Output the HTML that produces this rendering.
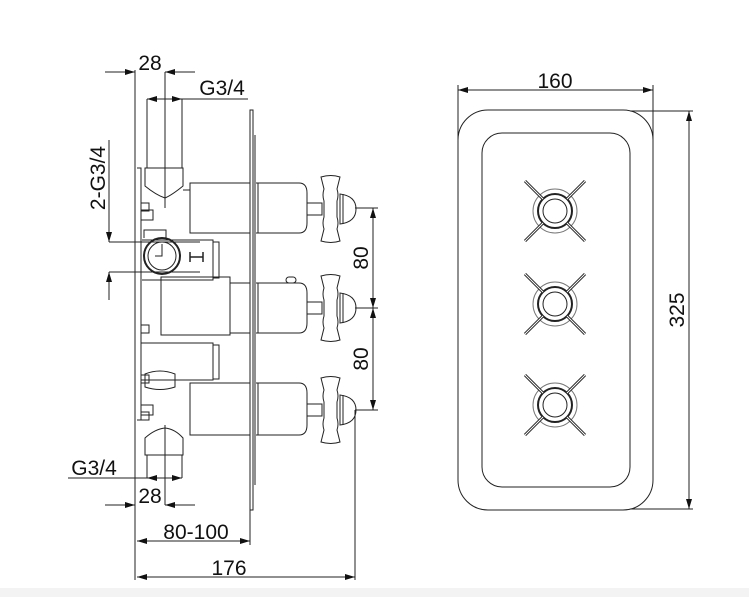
<!DOCTYPE html>
<html><head><meta charset="utf-8"><style>
html,body{margin:0;padding:0;background:#fff}
svg{display:block}
text{font-family:"Liberation Sans",sans-serif;fill:#111}
</style></head><body>
<svg width="749" height="597" viewBox="0 0 749 597" xmlns="http://www.w3.org/2000/svg">
<defs>
<marker id="a" viewBox="0 0 10 6" refX="10" refY="3" markerWidth="10" markerHeight="6" orient="auto-start-reverse" markerUnits="userSpaceOnUse"><path d="M0,0 L10,3 L0,6 z" fill="#111"/></marker>
<g id="hdl" fill="none" stroke="#222" stroke-width="1">
  <rect x="0" y="-6" width="15" height="12"/>
  <path d="M14,-32 q10,-3 19,0 l-3,12 q2,6 0,12 l0,16 q2,6 0,12 l3,12 q-9,3 -19,0 l3,-12 q-2,-6 0,-12 l0,-16 q-2,-6 0,-12 z"/>
  <path d="M33,-15 q16,2 16,15 q0,13 -16,15 z"/>
  <line x1="36" y1="-15" x2="36" y2="15"/>
</g>
<g id="knob" fill="none" stroke="#222" stroke-width="1">
  <circle r="22" stroke="#777"/><circle r="17" stroke-width="2"/><circle r="12"/>
  <line x1="-12" y1="-12" x2="-30" y2="-30" stroke-width="3"/>
  <line x1="12" y1="-12" x2="30" y2="-30" stroke-width="3"/>
  <line x1="-12" y1="12" x2="-30" y2="30" stroke-width="3"/>
  <line x1="12" y1="12" x2="30" y2="30" stroke-width="3"/>
  <line x1="-12" y1="-12" x2="-30" y2="-30" stroke="#fff" stroke-width="1"/>
  <line x1="12" y1="-12" x2="30" y2="-30" stroke="#fff" stroke-width="1"/>
  <line x1="-12" y1="12" x2="-30" y2="30" stroke="#fff" stroke-width="1"/>
  <line x1="12" y1="12" x2="30" y2="30" stroke="#fff" stroke-width="1"/>
</g>
</defs>
<rect x="0" y="588" width="749" height="9" fill="#f3f3f3"/>
<g fill="none" stroke="#222" stroke-width="1">
<line x1="135" y1="70" x2="135" y2="580"/>
<line x1="105" y1="72" x2="135" y2="72" marker-end="url(#a)"/>
<line x1="195" y1="72" x2="165" y2="72" marker-end="url(#a)"/>
<line x1="165" y1="72" x2="165" y2="140"/>
<line x1="165" y1="99" x2="248" y2="99"/>
<line x1="147" y1="99" x2="165" y2="99" marker-start="url(#a)"/>
<line x1="182" y1="99" x2="165" y2="99" marker-start="url(#a)"/>
<path d="M147,99 V168 M182,99 V168 M145,168 H183 V186 Q172,195 165,198 Q156,195 145,186 Z"/>
<line x1="165" y1="138" x2="165" y2="208"/>
<rect x="250" y="110" width="3" height="400"/>
<line x1="255" y1="135" x2="255" y2="485"/>
<path d="M137,168 H141 V420 H137"/>
<rect x="141" y="203" width="8" height="8"/><rect x="141" y="325" width="8" height="8"/>
<rect x="141" y="375" width="8" height="8"/><rect x="141" y="412" width="8" height="8"/>
<rect x="141" y="210" width="12" height="10"/><rect x="141" y="405" width="12" height="10"/>
<rect x="190" y="183" width="60" height="50"/>
<path d="M256,183 H299 Q307,183 307,193 V223 Q307,233 299,233 H256"/>
<line x1="258" y1="183" x2="258" y2="233"/>
<line x1="183" y1="190" x2="190" y2="190"/>
<path d="M142,240 H213 V280 H142"/>
<rect x="213" y="242" width="6" height="36"/>
<path d="M144,238 V230 H166 V238"/>
<circle cx="162" cy="256" r="18" stroke-width="2"/><circle cx="162" cy="256" r="14"/>
<path d="M162,244 V256 H155"/>
<path d="M190,252 V262 M203,252 V262 M190,257 H203" stroke-width="1.5"/>
<rect x="161" y="277" width="69" height="58"/>
<rect x="230" y="283" width="20" height="50"/>
<path d="M256,283 H299 Q307,283 307,293 V323 Q307,333 299,333 H256"/>
<line x1="258" y1="283" x2="258" y2="333"/>
<rect x="286" y="277" width="10" height="6" rx="3"/>
<path d="M141,343 H213 V380 H141"/><rect x="213" y="345" width="6" height="34"/>
<path d="M145,374 Q160,368 175,374 V387 Q160,392 145,387 Z"/>
<rect x="190" y="383" width="60" height="52"/>
<path d="M256,383 H299 Q307,383 307,393 V425 Q307,435 299,435 H256"/>
<line x1="258" y1="383" x2="258" y2="435"/>
<path d="M145,438 Q155,429 165,428 Q175,429 183,438 V455 H145 Z M147,455 V478 M182,455 V478"/>
<line x1="165" y1="425" x2="165" y2="505"/>
<line x1="109" y1="140" x2="109" y2="242" marker-end="url(#a)"/>
<line x1="109" y1="300" x2="109" y2="272" marker-end="url(#a)"/>
<line x1="109" y1="242" x2="200" y2="242"/>
<line x1="109" y1="272" x2="200" y2="272"/>
<line x1="68" y1="478" x2="147" y2="478"/>
<line x1="147" y1="478" x2="165" y2="478" marker-start="url(#a)"/>
<line x1="182" y1="478" x2="165" y2="478" marker-start="url(#a)"/>
<line x1="105" y1="505" x2="135" y2="505" marker-end="url(#a)"/>
<line x1="195" y1="505" x2="165" y2="505" marker-end="url(#a)"/>
<line x1="250" y1="510" x2="250" y2="545"/>
<line x1="137" y1="541" x2="250" y2="541" marker-start="url(#a)" marker-end="url(#a)"/>
<line x1="355" y1="410" x2="355" y2="580"/>
<line x1="137" y1="577" x2="355" y2="577" marker-start="url(#a)" marker-end="url(#a)"/>
<line x1="355" y1="208" x2="378" y2="208"/>
<line x1="355" y1="308" x2="378" y2="308"/>
<line x1="355" y1="410" x2="378" y2="410"/>
<line x1="373" y1="208" x2="373" y2="308" marker-start="url(#a)" marker-end="url(#a)"/>
<line x1="373" y1="308" x2="373" y2="410" marker-start="url(#a)" marker-end="url(#a)"/>
<rect x="458" y="110" width="195" height="400" rx="30"/>
<rect x="482" y="133" width="148" height="354" rx="20"/>
<line x1="458" y1="85" x2="458" y2="140"/>
<line x1="653" y1="85" x2="653" y2="140"/>
<line x1="458" y1="90" x2="653" y2="90" marker-start="url(#a)" marker-end="url(#a)"/>
<line x1="630" y1="111" x2="693" y2="111"/>
<line x1="630" y1="509" x2="693" y2="509"/>
<line x1="689" y1="111" x2="689" y2="509" marker-start="url(#a)" marker-end="url(#a)"/>
</g>
<use href="#hdl" x="307" y="209"/>
<use href="#hdl" x="307" y="308"/>
<use href="#hdl" x="307" y="410"/>
<use href="#knob" x="555" y="211"/>
<use href="#knob" x="555" y="304"/>
<use href="#knob" x="555" y="405"/>
<g font-size="21">
<text x="150" y="70" text-anchor="middle">28</text>
<text x="222" y="95" text-anchor="middle">G3/4</text>
<text x="150" y="503" text-anchor="middle">28</text>
<text x="94" y="475" text-anchor="middle">G3/4</text>
<text x="196" y="539" text-anchor="middle">80-100</text>
<text x="229" y="575" text-anchor="middle">176</text>
<text x="555" y="88" text-anchor="middle">160</text>
<text transform="translate(105,178) rotate(-90)" text-anchor="middle">2-G3/4</text>
<text transform="translate(368,258) rotate(-90)" text-anchor="middle">80</text>
<text transform="translate(368,359) rotate(-90)" text-anchor="middle">80</text>
<text transform="translate(684,310) rotate(-90)" text-anchor="middle">325</text>
</g>
</svg>
</body></html>
